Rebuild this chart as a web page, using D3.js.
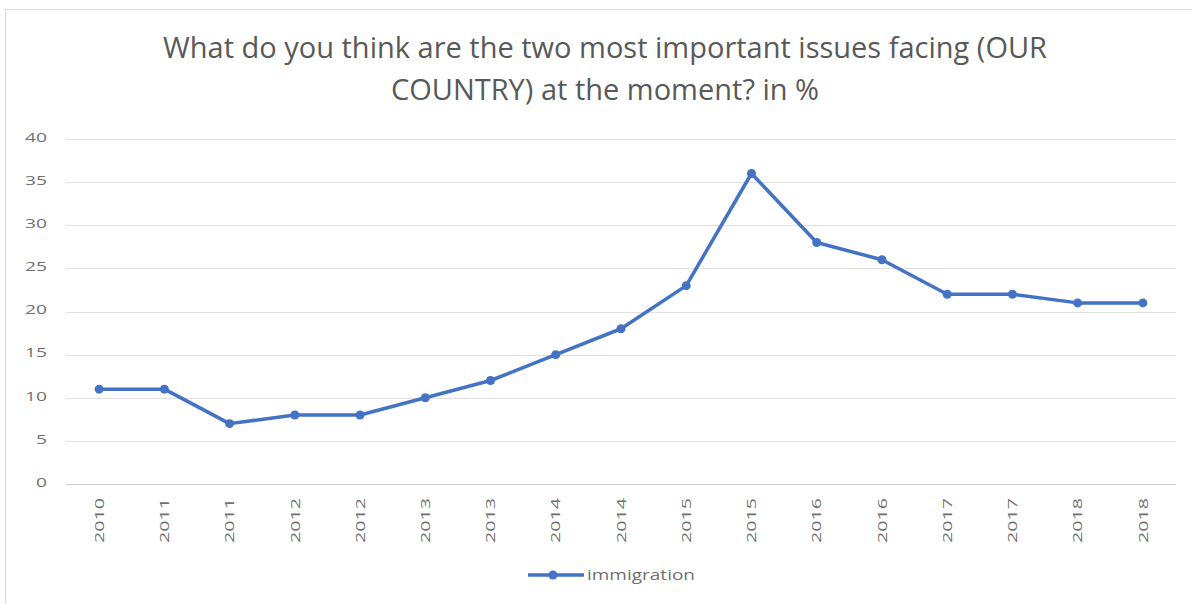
<!DOCTYPE html>
<html><head><meta charset="utf-8">
<script src="https://cdn.jsdelivr.net/npm/d3@7"></script>
<style>body{margin:0;background:#fff;} text{font-family:"Open Sans","Liberation Sans",sans-serif;}</style>
</head><body><svg id="c" width="1192" height="604"></svg>
<script>
const categories = ["2010","2011","2011","2012","2012","2013","2013","2014","2014","2015","2015","2016","2016","2017","2017","2018","2018"];
const immigration = [11,11,7,8,8,10,12,15,18,23,36,28,26,22,22,21,21];
const yTicks = [0,5,10,15,20,25,30,35,40];
const seriesName = "immigration";
const titleLines = ["What do you think are the two most important issues facing (OUR","COUNTRY) at the moment? in %"];

const svg = d3.select("#c");
svg.append("rect").attr("x",5.5).attr("y",9.5).attr("width",1200).attr("height",600).attr("fill","#fff").attr("stroke","#d9d9d9");

const x = d3.scaleBand().domain(d3.range(categories.length)).range([66.5,1175.5]);
const y = d3.scaleLinear().domain([0,40]).range([484,139]);

// gridlines
svg.append("g").selectAll("line").data(yTicks).join("line")
  .attr("x1",66).attr("x2",1176).attr("y1",d=>Math.round(y(d))+0.5).attr("y2",d=>Math.round(y(d))+0.5)
  .attr("stroke",d=>d===0?"#cfcfcf":"#e0e0e0").attr("stroke-width",1.2);

// y axis labels
const yAxis = d3.axisLeft(y).tickValues(yTicks).tickSize(0).tickPadding(0);
const gy = svg.append("g").attr("transform","translate(47,-2)").call(yAxis);
gy.select(".domain").remove();
gy.selectAll("text").attr("fill","#707070").attr("font-size",13.5)
  .attr("textLength",d=>String(d).length*11).attr("lengthAdjust","spacingAndGlyphs");

// x axis labels
const xAxis = d3.axisBottom(x).tickFormat(i=>categories[i]).tickSize(0).tickPadding(0);
const gx = svg.append("g").call(xAxis);
gx.select(".domain").remove();
gx.selectAll(".tick").attr("transform",i=>`translate(${x(i)+x.bandwidth()/2},498)`);
gx.selectAll(".tick text").attr("fill","#707070").attr("font-size",13.5)
  .attr("transform","rotate(-90)").attr("text-anchor","end").attr("x",0).attr("y",0).attr("dy","0.35em")
  .attr("textLength",45).attr("lengthAdjust","spacingAndGlyphs");

// line
const cx = i=>x(i)+x.bandwidth()/2;
svg.append("path").datum(immigration)
  .attr("d",d3.line().x((d,i)=>cx(i)).y(d=>y(d)))
  .attr("fill","none").attr("stroke","#4472c4").attr("stroke-width",3.5).attr("stroke-linejoin","round");
svg.append("g").selectAll("circle").data(immigration).join("circle")
  .attr("cx",(d,i)=>cx(i)).attr("cy",d=>y(d)).attr("r",4.5).attr("fill","#4472c4");

// title
svg.append("g").selectAll("text").data(titleLines).join("text")
  .attr("x",605).attr("y",(d,i)=>58+i*42).attr("text-anchor","middle")
  .attr("fill","#595959").attr("font-size",29).text(d=>d);

// legend
const lg = svg.append("g");
lg.append("line").attr("x1",528).attr("x2",584).attr("y1",575).attr("y2",575).attr("stroke","#4472c4").attr("stroke-width",3.5);
lg.append("circle").attr("cx",553).attr("cy",575).attr("r",4.5).attr("fill","#4472c4");
lg.append("text").attr("x",587).attr("y",575).attr("dy","0.35em").attr("fill","#707070").attr("font-size",14)
  .attr("textLength",108).attr("lengthAdjust","spacingAndGlyphs").text(seriesName);
</script></body></html>
